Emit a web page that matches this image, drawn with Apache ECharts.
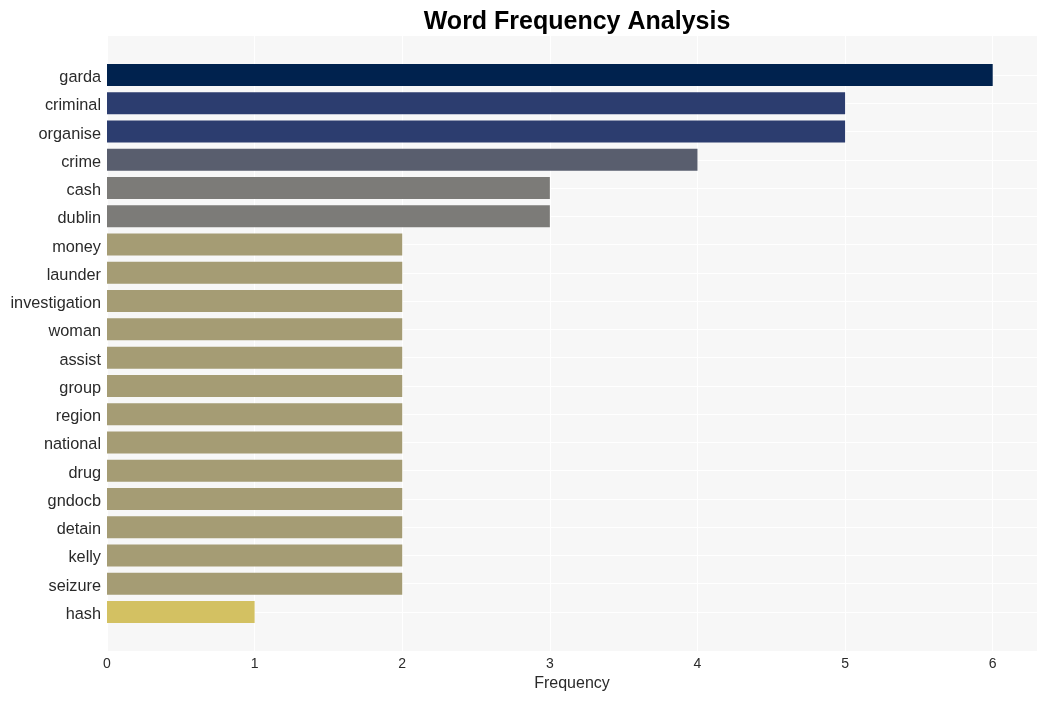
<!DOCTYPE html>
<html>
<head>
<meta charset="utf-8">
<script src="https://cdn.jsdelivr.net/npm/echarts@6/dist/echarts.min.js"></script>
<style>html,body{margin:0;padding:0;background:#fff}#c{width:1047px;height:701px}</style>
</head>
<body>
<div id="c"></div>
<script>
const categories = ["garda","criminal","organise","crime","cash","dublin","money","launder","investigation","woman","assist","group","region","national","drug","gndocb","detain","kelly","seizure","hash"];
const values = [6,5,5,4,3,3,2,2,2,2,2,2,2,2,2,2,2,2,2,1];
const barColors = ["#00224e","#2c3d6f","#2c3d6f","#595e6e","#7c7b78","#7c7b78","#a59c74","#a59c74","#a59c74","#a59c74","#a59c74","#a59c74","#a59c74","#a59c74","#a59c74","#a59c74","#a59c74","#a59c74","#a59c74","#d3c162"];
const xTicks = [0,1,2,3,4,5,6];

const font = "'Liberation Sans', Arial, sans-serif";
const chart = echarts.init(document.getElementById('c'), null, {renderer:'canvas'});
chart.setOption({
  animation: false,
  title: {
    text: 'Word Frequency Analysis', left: 572, textAlign: 'center', top: 5,
    textStyle: {fontFamily: font, fontSize: 25, fontWeight: 'bold', color: '#000'}
  },
  grid: [
    {left: 107, top: 36, width: 930, height: 615, show: true, backgroundColor: '#f7f7f7', borderWidth: 0},
    {left: 107, top: 75, width: 930, height: 537}
  ],
  xAxis: [
    {gridIndex: 0, type: 'value', min: 0, max: 6.3, interval: 1,
     axisLine: {show: false}, axisTick: {show: false},
     axisLabel: {fontFamily: font, fontSize: 14, color: '#2a2a2a', margin: 6,
       formatter: v => xTicks.indexOf(v) >= 0 ? String(v) : ''},
     splitLine: {show: true, lineStyle: {color: '#ffffff', width: 1}},
     name: 'Frequency', nameLocation: 'middle', nameGap: 25,
     nameTextStyle: {fontFamily: font, fontSize: 16, color: '#2a2a2a'}},
    {gridIndex: 1, type: 'value', min: 0, max: 6.3, show: false}
  ],
  yAxis: [
    {gridIndex: 0, type: 'value', show: false, min: 0, max: 1},
    {gridIndex: 1, type: 'category', data: categories, inverse: true, boundaryGap: false,
     axisLine: {show: false}, axisTick: {show: false},
     axisLabel: {margin: 6, interval: 0,
       formatter: v => '{a|' + v + '}',
       rich: {a: {fontFamily: font, fontSize: 16.3, color: '#2a2a2a', lineHeight: 20, padding: [5, 0, 0, 0]}}},
     splitLine: {show: true, interval: 0, lineStyle: {color: '#ffffff', width: 1}}}
  ],
  series: [{
    type: 'bar', xAxisIndex: 1, yAxisIndex: 1, barWidth: 22,
    data: values.map((v, i) => ({value: v, itemStyle: {color: barColors[i]}}))
  }]
});
</script>
</body>
</html>
